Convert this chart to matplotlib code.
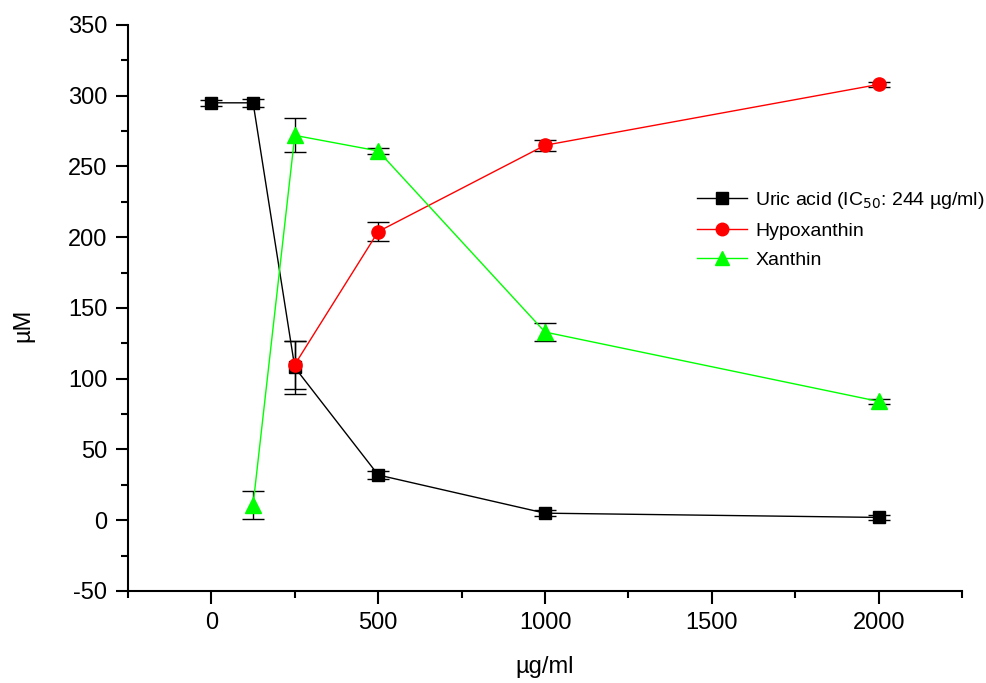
import matplotlib
matplotlib.use("Agg")
import matplotlib.pyplot as plt
from matplotlib.ticker import MultipleLocator
from matplotlib.lines import Line2D

plt.rcParams['font.family'] = ['Liberation Sans', 'DejaVu Sans']
plt.rcParams['axes.unicode_minus'] = False

uric_x = [0, 125, 250, 500, 1000, 2000]
uric_y = [295, 295, 108, 32, 5, 2]
uric_err = [2, 3, 19, 3, 2, 2]

hypo_x = [250, 500, 1000, 2000]
hypo_y = [110, 204, 265, 308]
hypo_err = [17, 7, 4, 2]

xan_x = [125, 250, 500, 1000, 2000]
xan_y = [11, 272, 261, 133, 84]
xan_err = [10, 12, 2, 6.5, 2]

labels = ['Uric acid (IC$_{50}$: 244 µg/ml)', 'Hypoxanthin', 'Xanthin']
colors = ['black', '#ff0000', '#00ff00']
markers = ['s', 'o', '^']
sizes = [9, 9.5, 11]

fig = plt.figure(figsize=(9.86, 6.83), dpi=100)
ax = fig.add_axes([0.1298, 0.1347, 0.9757 - 0.1298, 0.9634 - 0.1347])

common = dict(capsize=8, ecolor='black', elinewidth=1, capthick=1, lw=1, zorder=3)
for (xs, ys, es), c, m, s in zip([(uric_x, uric_y, uric_err),
                                  (hypo_x, hypo_y, hypo_err),
                                  (xan_x, xan_y, xan_err)], colors, markers, sizes):
    ax.errorbar(xs, ys, yerr=es, color=c, marker=m, ms=s, mfc=c, mec=c, **common)

ax.set_xlim(-250, 2250)
ax.set_ylim(-50, 350)
ax.xaxis.set_major_locator(MultipleLocator(500))
ax.xaxis.set_minor_locator(MultipleLocator(250))
ax.yaxis.set_major_locator(MultipleLocator(50))
ax.yaxis.set_minor_locator(MultipleLocator(25))
for s in ['top', 'right']:
    ax.spines[s].set_visible(False)
for s in ['left', 'bottom']:
    ax.spines[s].set_linewidth(1.5)
ax.tick_params(which='major', direction='out', length=9, width=1.5, pad=6, labelsize=17)
ax.tick_params(which='minor', direction='out', length=5, width=1.5)

ax.set_xlabel('µg/ml', fontsize=17)
ax.set_ylabel('µM', fontsize=17)
ax.xaxis.set_label_coords(0.5, -0.115)
ax.yaxis.set_label_coords(-0.112, 0.47)

handles = [Line2D([], [], color=c, marker=m, ms=s * 0.95, mfc=c, mec=c, lw=1)
           for c, m, s in zip(colors, markers, sizes)]
ax.legend(handles, labels, loc='upper left', bbox_to_anchor=(0.682, 0.708), frameon=False,
          fontsize=14, handlelength=2.6, handletextpad=0.4, labelspacing=0.58,
          borderaxespad=0, borderpad=0)

fig.savefig('out.png', dpi=100)
